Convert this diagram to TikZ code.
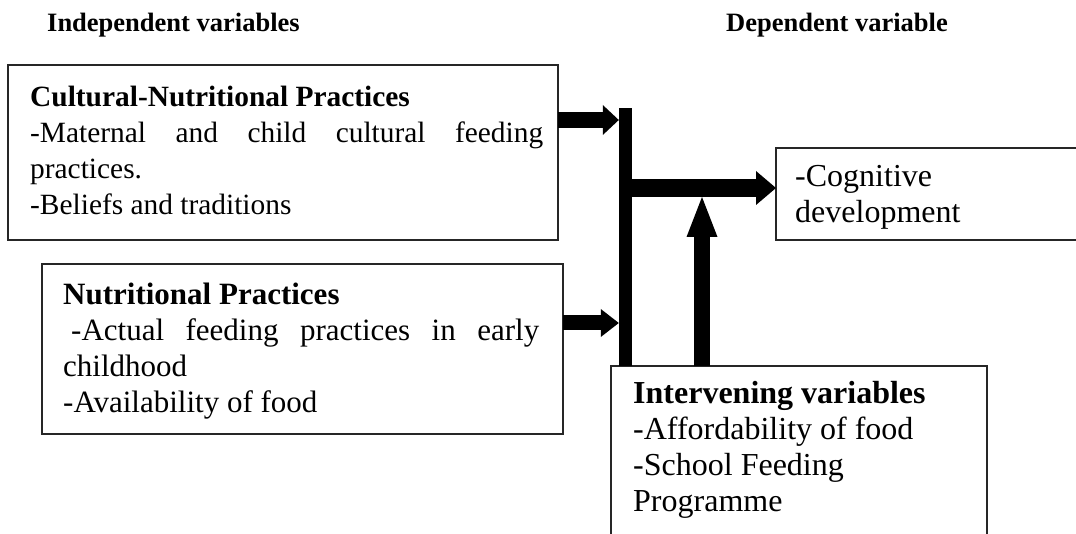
\documentclass[tikz,border=0pt]{standalone}
\usepackage{fontspec}
\setmainfont{Liberation Serif}
\usepackage{tikz}
\usetikzlibrary{arrows.meta}
\tikzset{
%%%%%%%%%%  Node styles
framebox/.style={draw=black!85, line width=1.6pt, inner sep=0pt, outer sep=0pt,
                 anchor=north west},
boxtext/.style={inner sep=0pt, anchor=base west,
                font=\fontsize{#1}{36}\selectfont},
boxtext/.default=29,
header/.style={inner sep=0pt, anchor=base west,
               font=\fontsize{26.5}{30}\selectfont\bfseries},
%%%%%%%%%%  Thick block arrows: shaft, head width, head length
blockarrow/.style n args={3}{line width=#1,
                 -{Triangle[width=#2 0 0, length=#3 0 0, line width=0pt 0 0]}}
}

\begin{document}
\begin{tikzpicture}[x=1pt,y=-1pt]
\useasboundingbox (0,0) rectangle (1076,534);
\clip (0,0) rectangle (1076,534);
\node[header] (indep) at (47,32) {Independent variables};
\node[header] (dep) at (726,32) {Dependent variable};
%% boxes
\node[framebox, minimum width=550pt, minimum height=175pt] (cultural) at (8,65) {};
\node[framebox, minimum width=521pt, minimum height=170pt] (nutrition) at (42,264) {};
\node[framebox, minimum width=330pt, minimum height=92pt] (cognitive) at (776,148) {};
\node[framebox, minimum width=376pt, minimum height=200pt] (interv) at (611,366) {};
\node[fill=black, inner sep=0pt, minimum width=13pt, minimum height=258pt,
      anchor=north] (bar) at (625.5,108) {};
%% box texts
\node[boxtext=29.4] (culturaltxt) at ([shift={(22,42)}]cultural.north west)
  {\parbox[t]{513pt}{\textbf{Cultural-Nutritional Practices}\\
   \makebox[513pt][s]{-Maternal and child cultural feeding}\\
   practices.\\
   -Beliefs and traditions}};
\node[boxtext=31] (nutritiontxt) at ([shift={(21,41)}]nutrition.north west)
  {\parbox[t]{476pt}{\textbf{Nutritional Practices}\\
   \makebox[476pt][s]{\hspace*{8pt}-Actual feeding practices in early}\\
   childhood\\
   -Availability of food}};
\node[boxtext=32] (cognitivetxt) at ([shift={(19,39)}]cognitive.north west)
  {\parbox[t]{280pt}{-Cognitive\\ development}};
\node[boxtext=32] (intervtxt) at ([shift={(22,37)}]interv.north west)
  {\parbox[t]{345pt}{\textbf{Intervening variables}\\
   -Affordability of food\\
   -School Feeding\\
   Programme}};
%% arrows
\coordinate (c1) at ([yshift=-55pt]cultural.north east);
\coordinate (n1) at ([yshift=-59pt]nutrition.north east);
\coordinate (b1) at ([yshift=-80pt]bar.north east);
\coordinate (b2) at ([yshift=-9pt]b1);
\coordinate (i1) at ([xshift=91pt]interv.north west);
\draw[blockarrow={16pt}{30pt}{16pt}] (c1) -- (c1 -| bar.west);
\draw[blockarrow={15pt}{28pt}{18pt}] (n1) -- (n1 -| bar.west);
\draw[blockarrow={18pt}{34pt}{20pt}] (b1) -- (b1 -| cognitive.west);
\draw[blockarrow={16pt}{31pt}{40pt}] (i1) -- (i1 |- b2);
\end{tikzpicture}
\end{document}
